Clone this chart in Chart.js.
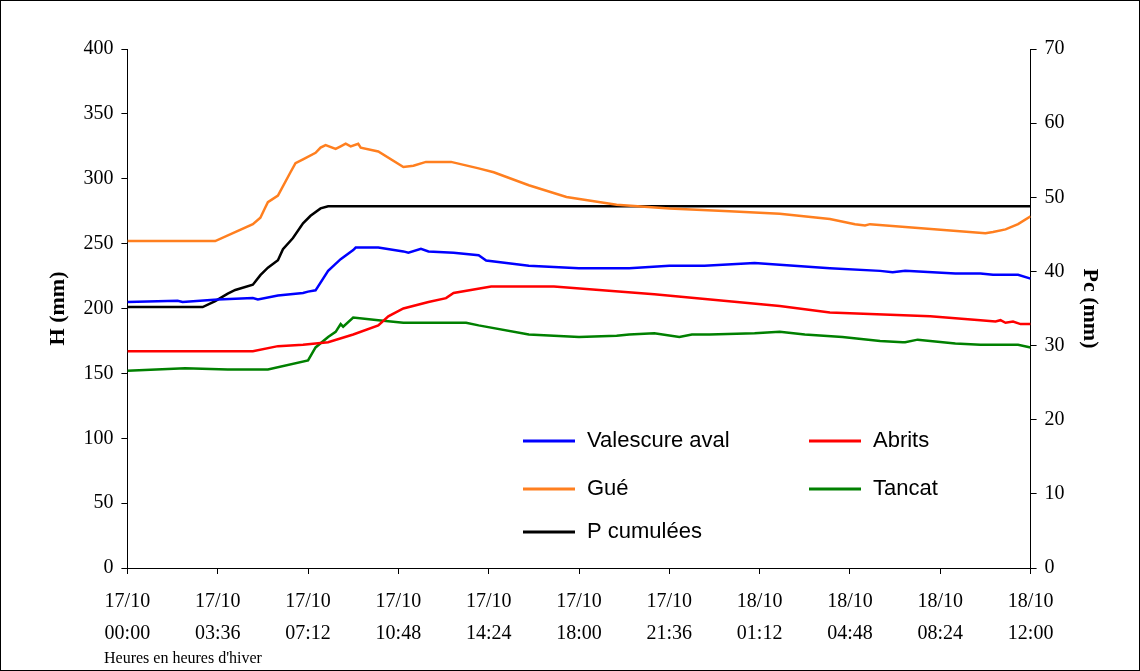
<!DOCTYPE html>
<html><head><meta charset="utf-8">
<script src="https://cdn.jsdelivr.net/npm/chart.js@4"></script>
<style>html,body{margin:0;background:#fff}#w{position:relative;width:1138px;height:669px;border:1px solid #000}</style>
</head><body><div id="w"><canvas id="c" width="1138" height="669"></canvas></div>
<script>
const tickLabels=[["17/10","00:00"],["17/10","03:36"],["17/10","07:12"],["17/10","10:48"],["17/10","14:24"],["17/10","18:00"],["17/10","21:36"],["18/10","01:12"],["18/10","04:48"],["18/10","08:24"],["18/10","12:00"]];
const valescure=[[0,205],[2,206],[2.2,205],[3.6,207],[5,208],[5.2,207],[6,210],[7,212],[7.2,213],[7.5,214],[8,229],[8.5,238],[9,245],[9.1,247],[10,247],[11,244],[11.2,243],[11.7,246],[12,244],[13,243],[14,241],[14.3,237],[16,233],[17,232],[18,231],[20,231],[21.6,233],[23,233],[25,235],[28,231],[30,229],[30.5,228],[31,229],[33,227],[34,227],[34.5,226],[35.5,226],[36,223]];
const gue=[[0,252],[3.5,252],[5,265],[5.3,270],[5.5,278],[5.6,282],[6,287],[6.5,305],[6.7,312],[7,315],[7.5,320],[7.7,324],[7.9,326],[8.3,323],[8.5,325],[8.7,327],[8.9,325],[9.2,327],[9.3,324],[10,321],[11,309],[11.4,310],[11.9,313],[12.9,313],[14,308],[14.6,305],[16,295],[17.5,286],[19.5,280],[21.6,277],[24,275],[26,273],[28,269],[29,265],[29.4,264],[29.6,265],[34.2,258],[34.5,259],[35,261],[35.5,265],[36,271]];
const pcum=[[0,35.2],[3,35.2],[3.5,36],[4,37],[4.3,37.5],[5,38.2],[5.3,39.5],[5.6,40.5],[6,41.5],[6.2,43],[6.6,44.5],[7,46.5],[7.3,47.5],[7.7,48.5],[8,48.8],[36,48.8]];
const abrits=[[0,167],[5,167],[6,171],[7,172],[8,174],[9,180],[10,187],[10.4,194],[11,200],[12,205],[12.7,208],[13,212],[14.5,217],[16,217],[17,217],[21,211],[26,202],[28,197],[32,194],[34,191],[34.6,190],[34.8,191],[35,189],[35.3,190],[35.6,188],[36,188]];
const tancat=[[0,152],[2.3,154],[4,153],[5.6,153],[7.2,160],[7.5,170],[8,178],[8.3,182],[8.5,188],[8.6,186],[9,193],[10,191],[11,189],[12,189],[13.5,189],[14,187],[16,180],[18,178],[19.5,179],[20,180],[21,181],[22,178],[22.5,180],[23.2,180],[25,181],[26,182],[27,180],[28.5,178],[30,175],[30.9,174],[31,174],[31.5,176],[33,173],[34,172],[35.5,172],[36,170]];
const pts=a=>a.map(([x,y])=>({x,y}));
const ds=(label,d,color,ax)=>({label,data:pts(d),borderColor:color,backgroundColor:color,borderWidth:2.5,pointRadius:0,tension:0,yAxisID:ax});
const legendPlugin={id:'lg',afterDraw(ch){const c=ch.ctx;const items=[['Valescure aval',522,440],['Abrits',808,440],['Gué',522,488],['Tancat',808,488],['P cumulées',522,531]];
c.save();c.font='22px "Liberation Sans"';c.textBaseline='middle';
items.forEach(([t,x,y])=>{const d=ch.data.datasets.find(s=>s.label===t);c.strokeStyle=d.borderColor;c.lineWidth=3;c.beginPath();c.moveTo(x,y);c.lineTo(x+52,y);c.stroke();c.fillStyle='#000';c.fillText(t,x+64,y);});
c.font='16px "Liberation Serif"';c.textBaseline='alphabetic';c.fillText("Heures en heures d'hiver",103,662);c.restore();}};
const tf={family:'Liberation Serif',size:20,lineHeight:1.6};
const gr={display:true,drawOnChartArea:false,drawTicks:true,tickLength:6,color:'#000'};
new Chart(document.getElementById('c'),{type:'line',
data:{datasets:[ds('Valescure aval',valescure,'#0000ff','y'),ds('Gué',gue,'#ff7f1f','y'),ds('Abrits',abrits,'#ff0000','y'),ds('Tancat',tancat,'#008000','y'),ds('P cumulées',pcum,'#000000','y2')]},
options:{responsive:false,animation:false,layout:{padding:{left:40,right:32,top:48,bottom:8}},
plugins:{legend:{display:false},tooltip:{enabled:false}},
scales:{x:{type:'linear',min:0,max:36,afterBuildTicks:s=>{s.ticks=tickLabels.map((_,i)=>({value:i*3.6}));},
ticks:{font:tf,color:'#000',maxRotation:0,autoSkip:false,padding:12,callback:(v,i)=>tickLabels[i]},grid:gr,border:{color:'#000',width:1}},
y:{min:0,max:400,ticks:{stepSize:50,font:{family:'Liberation Serif',size:20},color:'#000',padding:8},grid:gr,border:{color:'#000'},title:{display:true,text:'H (mm)',font:{family:'Liberation Serif',size:22,weight:'bold'},color:'#000'}},
y2:{position:'right',min:0,max:70,ticks:{stepSize:10,font:{family:'Liberation Serif',size:20},color:'#000',padding:8},grid:gr,border:{color:'#000'},title:{display:true,text:'Pc (mm)',font:{family:'Liberation Serif',size:22,weight:'bold'},color:'#000'}}}},
plugins:[legendPlugin]});
</script></body></html>
